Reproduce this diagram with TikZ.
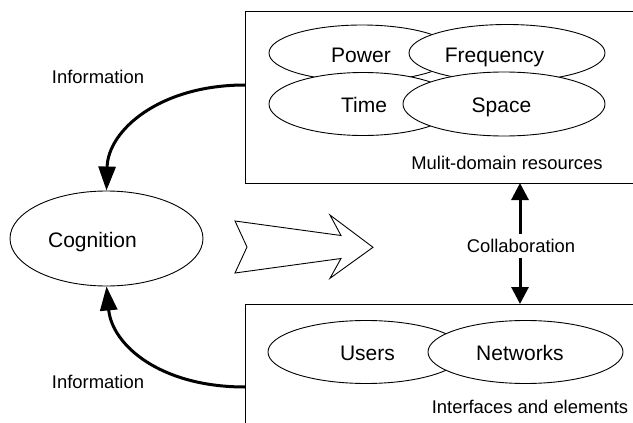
\documentclass[tikz,border=0pt]{standalone}
\usepackage{fontspec}
\setmainfont{Liberation Sans}
\usetikzlibrary{arrows.meta,shapes.geometric}

\tikzset{
  big/.style={font=\fontsize{21}{24}\selectfont},
  small/.style={font=\fontsize{18.4}{22}\selectfont},
  ell/.style={ellipse, draw, fill=white, line width=0.9pt, inner sep=0pt},
  word/.style={big, anchor=base, inner sep=0pt},
  panel/.style={draw, line width=1pt, anchor=north west, inner sep=0pt},
  infoarrow/.style={line width=3pt, -{Triangle[length=24pt,width=17pt]}},
  collarrow/.style={line width=3pt, {Triangle[length=17pt,width=17pt]}-{Triangle[length=17pt,width=17pt]}},
}

\begin{document}
\begin{tikzpicture}[x=1pt,y=-1pt]
\useasboundingbox (0,0) rectangle (633,423);
\clip (0,0) rectangle (633,423);

% resource and interface panels (running off the right edge)
\node[panel, minimum width=420pt, minimum height=172pt] (res) at (245,11) {};
\node[panel, minimum width=420pt, minimum height=150pt] (intf) at (245,304) {};

% multi-domain resources
\node[ell, minimum width=186pt, minimum height=56pt] (pow) at (362,53) {};
\node[word] (powt) at (361,63) {Power};
\node[ell, minimum width=196pt, minimum height=57pt] (freq) at (507,53) {};
\node[word] (freqt) at (494.5,63) {Frequency};
\node[ell, minimum width=188pt, minimum height=63pt] (time) at (363,104) {};
\node[word] (timet) at (364,112) {Time};
\node[ell, minimum width=202pt, minimum height=64pt] (space) at (504,104) {};
\node[word] (spacet) at (501.5,112) {Space};
\node[small] (reslabel) at (507,163) {Mulit-domain resources};

% interfaces and elements
\node[ell, minimum width=196pt, minimum height=63pt] (users) at (366,352) {};
\node[word] (userst) at (367.5,360) {Users};
\node[ell, minimum width=195pt, minimum height=63pt] (nets) at (525.5,352) {};
\node[word] (netst) at (520,360) {Networks};
\node[small] (intlabel) at (530,407) {Interfaces and elements};

% cognition
\node[ell, minimum width=193pt, minimum height=95pt] (cog) at (106.5,238.5) {};
\node[word] (cogt) at (92.5,247) {Cognition};

% information flows
\coordinate (resout) at (245,85);
\coordinate (intout) at (245,387);
\draw[infoarrow] (resout) .. controls (160,85) and (108,130) .. (cog.north);
\draw[infoarrow] (intout) .. controls (160,387) and (112,345) .. (cog.south);
\node[small] (info1) at (98,77) {Information};
\node[small] (info2) at (98,382) {Information};

% hollow arrow
\draw[line width=0.9pt, fill=white]
  (235,221) -- (341,235.5) -- (330,215) -- (373,247.3) -- (330,278.3)
  -- (341,258.5) -- (235,273) -- (247,247) -- cycle;

% collaboration
\coordinate (ctop) at (520,183);
\coordinate (cbot) at (520,304);
\draw[collarrow] (ctop) -- (cbot);
\node[small, fill=white, inner xsep=2pt, inner ysep=5pt] (collab) at (521,246) {Collaboration};
\end{tikzpicture}
\end{document}
